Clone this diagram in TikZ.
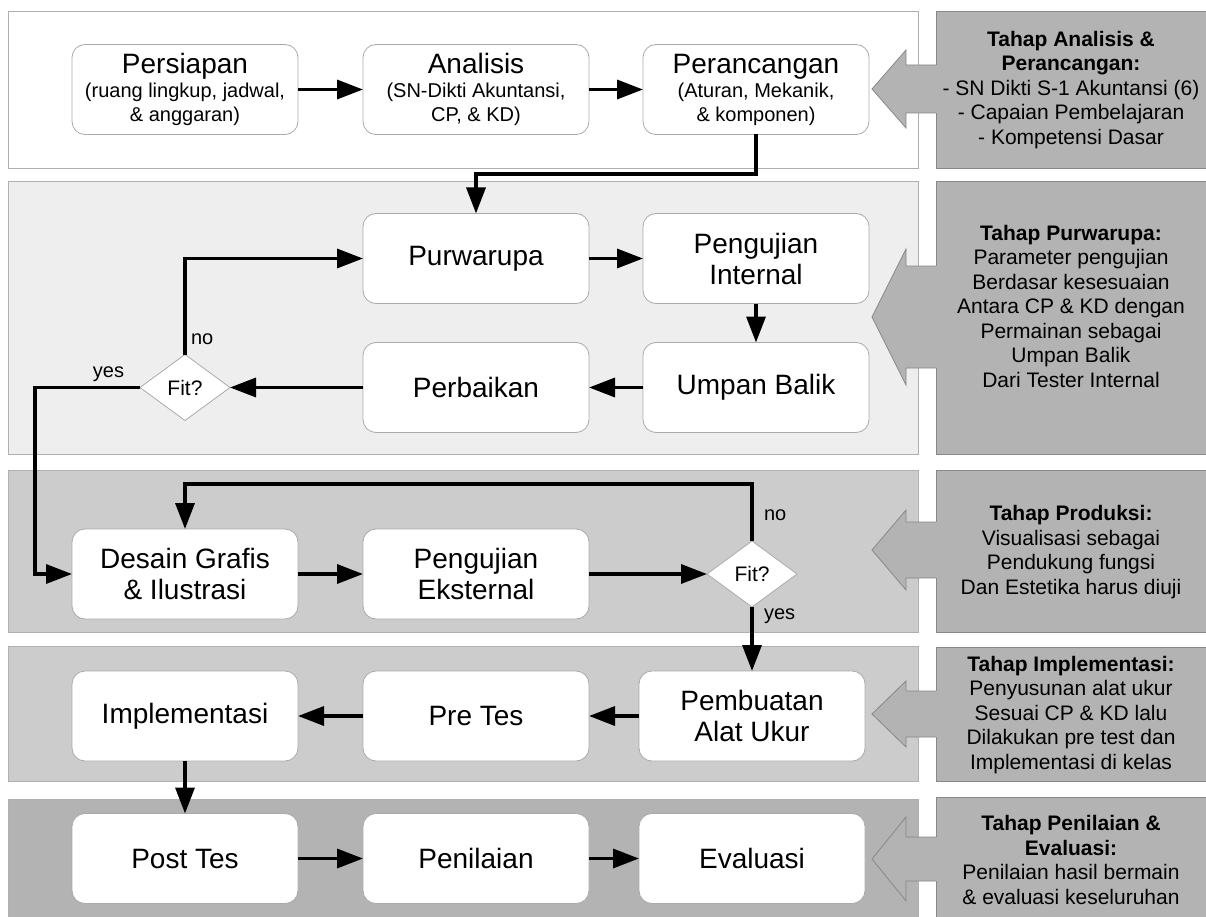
\documentclass[tikz,border=0pt]{standalone}
\usepackage{fontspec}
\setmainfont{Liberation Sans}
\usetikzlibrary{arrows.meta,shapes.geometric}

\definecolor{ceeeeee}{RGB}{238,238,238}
\definecolor{ccccccc}{RGB}{204,204,204}
\definecolor{cb3b3b3}{RGB}{179,179,179}
\definecolor{cb0b0b0}{RGB}{176,176,176}
\definecolor{caaaaaa}{RGB}{170,170,170}
\definecolor{c888888}{RGB}{136,136,136}

\newcommand{\kecil}{\fontsize{20}{24}\selectfont}

\begin{document}
\begin{tikzpicture}[y=1pt, x=1pt, yscale=-1, inner sep=0pt, outer sep=0pt,
  langkah/.style={draw=caaaaaa, fill=white, line width=0.8pt, rounded corners=13pt,
    minimum width=226pt, minimum height=90pt, align=center,
    font=\fontsize{28}{31}\selectfont},
  rinci/.style={langkah, font=\fontsize{28}{24}\selectfont},
  cek/.style={diamond, draw=caaaaaa, fill=white, line width=0.8pt,
    minimum width=90pt, minimum height=66pt, font=\fontsize{21}{24}\selectfont},
  alur/.style={draw=black, line width=3.4pt, -{Triangle[length=26pt,width=19pt]}},
  ket/.style={font=\fontsize{20}{24}\selectfont, inner sep=6pt},
  pita/.style={draw=cb0b0b0, line width=0.8pt},
  tahap/.style={align=center, font=\fontsize{21}{24.5}\selectfont},
  panah/.style={draw=c888888, line width=0.8pt, line join=miter}]
\useasboundingbox (0,0) rectangle (1206,917);

  % pita tahap
  \path[pita, fill=white] (8,11) rectangle (918,168);
  \path[pita, fill=ceeeeee] (8,181) rectangle (918,454);
  \path[pita, fill=ccccccc] (8,470) rectangle (918,632);
  \path[pita, fill=ccccccc] (8,646) rectangle (918,781);
  \path[pita, fill=cb3b3b3] (8,799) rectangle (918,925);

  % panel keterangan
  \path[draw=c888888, line width=0.8pt, fill=cb3b3b3] (936,11) rectangle (1215,168);
  \path[draw=c888888, line width=0.8pt, fill=cb3b3b3] (936,181) rectangle (1215,454);
  \path[draw=c888888, line width=0.8pt, fill=cb3b3b3] (936,470) rectangle (1215,632);
  \path[draw=c888888, line width=0.8pt, fill=cb3b3b3] (936,647) rectangle (1215,781);
  \path[draw=c888888, line width=0.8pt, fill=cb3b3b3] (936,797) rectangle (1215,925);

  % panah tahap
  \path[fill=cb3b3b3] (940,65) -- (906,65) -- (906,50) -- (872,89) -- (906,128) --
    (906,113) -- (940,113) -- cycle;
  \path[panah] (936,65) -- (906,65) -- (906,50) -- (872,89) -- (906,128) --
    (906,113) -- (936,113);
  \path[fill=cb3b3b3] (940,266) -- (906,266) -- (906,249) -- (872,317) -- (906,385) --
    (906,368) -- (940,368) -- cycle;
  \path[panah] (936,266) -- (906,266) -- (906,249) -- (872,317) -- (906,385) --
    (906,368) -- (936,368);
  \path[fill=cb3b3b3] (940,522) -- (906,522) -- (906,510) -- (872,550) -- (906,590) --
    (906,578) -- (940,578) -- cycle;
  \path[panah] (936,522) -- (906,522) -- (906,510) -- (872,550) -- (906,590) --
    (906,578) -- (936,578);
  \path[fill=cb3b3b3] (940,691) -- (906,691) -- (906,681) -- (872,714) -- (906,747) --
    (906,737) -- (940,737) -- cycle;
  \path[panah] (936,691) -- (906,691) -- (906,681) -- (872,714) -- (906,747) --
    (906,737) -- (936,737);
  \path[fill=cb3b3b3] (940,837) -- (906,837) -- (906,817) -- (872,859) -- (906,901) --
    (906,881) -- (940,881) -- cycle;
  \path[panah] (936,837) -- (906,837) -- (906,817) -- (872,859) -- (906,901) --
    (906,881) -- (936,881);

  % teks panel
  \node[tahap] (tahapanalisis) at (1071,90) {\textbf{Tahap Analisis \&}\\
    \textbf{Perancangan:}\\- SN Dikti S-1 Akuntansi (6)\\- Capaian Pembelajaran\\
    - Kompetensi Dasar};
  \node[tahap] (tahappurwarupa) at (1071,306) {\textbf{Tahap Purwarupa:}\\
    Parameter pengujian\\Berdasar kesesuaian\\Antara CP \& KD dengan\\
    Permainan sebagai\\Umpan Balik\\Dari Tester Internal};
  \node[tahap] (tahapproduksi) at (1071,552) {\textbf{Tahap Produksi:}\\
    Visualisasi sebagai\\Pendukung fungsi\\Dan Estetika harus diuji};
  \node[tahap] (tahapimplementasi) at (1071,715) {\textbf{Tahap Implementasi:}\\
    Penyusunan alat ukur\\Sesuai CP \& KD lalu\\Dilakukan pre test dan\\
    Implementasi di kelas};
  \node[tahap] (tahappenilaian) at (1071,860) {\textbf{Tahap Penilaian \&}\\
    \textbf{Evaluasi:}\\Penilaian hasil bermain\\\& evaluasi keseluruhan};

  % langkah
  \node[rinci] (persiapan) at (185,89.5) {Persiapan\\\kecil (ruang lingkup, jadwal,\\
    \kecil \& anggaran)};
  \node[rinci] (analisis) at (476,89.5) {Analisis\\\kecil (SN-Dikti Akuntansi,\\
    \kecil CP, \& KD)};
  \node[rinci] (perancangan) at (756,89.5) {Perancangan\\\kecil (Aturan, Mekanik,\\
    \kecil \& komponen)};
  \node[langkah] (purwarupa) at (476,258.5) {Purwarupa};
  \node[langkah] (ujiinternal) at (756,258.5) {Pengujian\\Internal};
  \node[langkah] (umpanbalik) at (756,387.5) {Umpan Balik};
  \node[langkah] (perbaikan) at (476,387.5) {Perbaikan};
  \node[cek] (fita) at (185,387.5) {Fit?};
  \node[langkah] (desain) at (185,574) {Desain Grafis\\\& Ilustrasi};
  \node[langkah] (ujieksternal) at (476,574) {Pengujian\\Eksternal};
  \node[cek] (fitb) at (752,574) {Fit?};
  \node[langkah] (pembuatan) at (752,716) {Pembuatan\\Alat Ukur};
  \node[langkah] (pretes) at (476,716) {Pre Tes};
  \node[langkah] (implementasi) at (185,716) {Implementasi};
  \node[langkah] (posttes) at (185,858.5) {Post Tes};
  \node[langkah] (penilaian) at (476,858.5) {Penilaian};
  \node[langkah] (evaluasi) at (752,858.5) {Evaluasi};

  % alur
  \draw[alur] (persiapan) -- (analisis);
  \draw[alur] (analisis) -- (perancangan);
  \draw[alur] (perancangan.south) -- ++(0,39.5) -| (purwarupa.north);
  \draw[alur] (purwarupa) -- (ujiinternal);
  \draw[alur] (ujiinternal) -- (umpanbalik);
  \draw[alur] (umpanbalik) -- (perbaikan);
  \draw[alur] (perbaikan) -- (fita);
  \draw[alur] (fita.north) node[ket, anchor=south west, yshift=4pt] {no}
    |- (purwarupa.west);
  \draw[alur] (fita.west) -- ++(-105,0) node[ket, pos=0.3, above] {yes}
    |- (desain.west);
  \draw[alur] (desain) -- (ujieksternal);
  \draw[alur] (ujieksternal) -- (fitb);
  \draw[alur] (fitb.north) -- ++(0,-57) node[ket, pos=0.45, right, xshift=6pt] {no}
    -| (desain.north);
  \draw[alur] (fitb.south) -- (pembuatan.north) node[ket, pos=0.15, right, xshift=6pt] {yes};
  \draw[alur] (pembuatan) -- (pretes);
  \draw[alur] (pretes) -- (implementasi);
  \draw[alur] (implementasi) -- (posttes);
  \draw[alur] (posttes) -- (penilaian);
  \draw[alur] (penilaian) -- (evaluasi);

\end{tikzpicture}
\end{document}
